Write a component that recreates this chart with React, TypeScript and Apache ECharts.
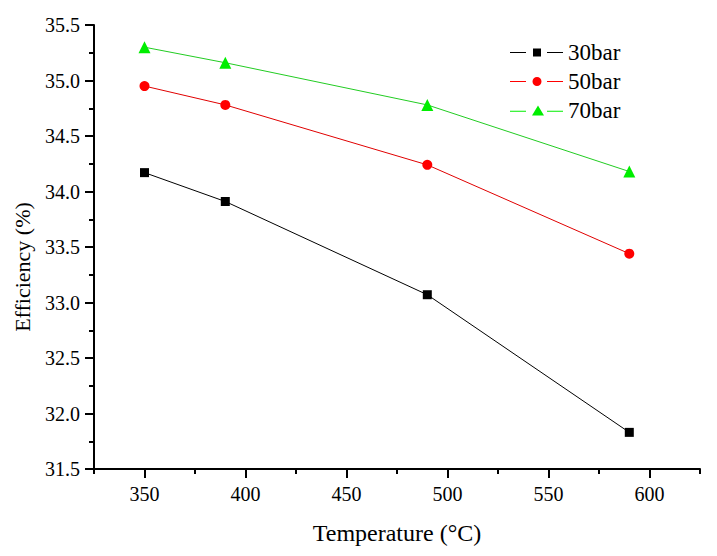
import React, { useEffect, useRef } from "react";
import * as echarts from "echarts";

const temperatures = [350, 390, 490, 590];
const bar30 = [34.17, 33.91, 33.07, 31.83];
const bar50 = [34.95, 34.78, 34.24, 33.44];
const bar70 = [35.3, 35.16, 34.78, 34.18];
const seriesNames = ["30bar", "50bar", "70bar"];
const xMajorTicks = [350, 400, 450, 500, 550, 600];
const xMinorTicks = [325, 375, 425, 475, 525, 575, 625];

const FONT = "Liberation Serif";

const legendIcons = [
  "path://M0 3.5H16V4.5H0Z M23 0H31V8H23Z M37 3.5H53V4.5H37Z",
  "path://M0 4H16V5H0Z M22.5 4.5A4.5 4.5 0 1 0 31.5 4.5A4.5 4.5 0 1 0 22.5 4.5Z M37 4H53V5H37Z",
  "path://M0 5.2H16V6.2H0Z M22 10L28 0L34 10Z M37 5.2H53V6.2H37Z",
];
const legendHeights = [8, 9, 10];
const legendTops = [41, 70, 99];

export default function App() {
  const ref = useRef<HTMLDivElement>(null);
  useEffect(() => {
    if (!ref.current) return;
    const chart = echarts.init(ref.current, null, { renderer: "svg" });
    const mk = (vals: number[]) => temperatures.map((t, i) => [t, vals[i]]);
    chart.setOption({
      animation: false,
      backgroundColor: "#ffffff",
      textStyle: { fontFamily: FONT },
      grid: { left: 94, right: 17, top: 25, bottom: 87 },
      legend: seriesNames.map((n, i) => ({
        left: 510,
        top: legendTops[i],
        padding: 0,
        itemWidth: 53,
        itemHeight: legendHeights[i],
        textStyle: { fontFamily: FONT, fontSize: 23, color: "#000" },
        data: [{ name: n, icon: legendIcons[i] }],
      })),
      xAxis: [
        {
          type: "value",
          min: 325,
          max: 625,
          name: "Temperature (°C)",
          nameLocation: "middle",
          nameGap: 52,
          nameTextStyle: { fontFamily: FONT, fontSize: 24, color: "#000" },
          axisLine: { show: true, onZero: false, lineStyle: { color: "#000", width: 2 } },
          axisTick: { show: true, customValues: xMajorTicks, length: 9, lineStyle: { color: "#000", width: 2 } },
          axisLabel: {
            customValues: xMajorTicks,
            margin: 15,
            fontFamily: FONT,
            fontSize: 20,
            color: "#000",
          },
          splitLine: { show: false },
        },
        {
          type: "value",
          min: 325,
          max: 625,
          position: "bottom",
          axisLine: { show: false },
          axisTick: { show: true, customValues: xMinorTicks, length: 5, lineStyle: { color: "#000", width: 2 } },
          axisLabel: { show: false },
          splitLine: { show: false },
        },
      ],
      yAxis: {
        type: "value",
        min: 31.5,
        max: 35.5,
        interval: 0.5,
        name: "Efficiency (%)",
        nameLocation: "middle",
        nameGap: 61,
        nameTextStyle: { fontFamily: FONT, fontSize: 22, color: "#000", padding: [0, 40, 0, 0] },
        axisLine: { show: true, onZero: false, lineStyle: { color: "#000", width: 2 } },
        axisTick: { show: true, length: 9, lineStyle: { color: "#000", width: 2 } },
        minorTick: { show: true, splitNumber: 2, length: 5, lineStyle: { color: "#000", width: 2 } },
        axisLabel: {
          margin: 14,
          fontFamily: FONT,
          fontSize: 20,
          color: "#000",
          formatter: (v: number) => v.toFixed(1),
        },
        splitLine: { show: false },
      },
      series: [
        {
          name: seriesNames[0],
          type: "line",
          data: mk(bar30),
          symbol: "rect",
          symbolSize: 9,
          itemStyle: { color: "#000000" },
          lineStyle: { color: "#000000", width: 1 },
        },
        {
          name: seriesNames[1],
          type: "line",
          data: mk(bar50),
          symbol: "circle",
          symbolSize: 10,
          itemStyle: { color: "#ff0000" },
          lineStyle: { color: "#e00000", width: 1 },
        },
        {
          name: seriesNames[2],
          type: "line",
          data: mk(bar70),
          symbol: "triangle",
          symbolSize: 12,
          itemStyle: { color: "#00ee00" },
          lineStyle: { color: "#22cc22", width: 1 },
        },
      ],
    });
    return () => chart.dispose();
  }, []);
  return <div ref={ref} style={{ width: 717, height: 556, position: "absolute", left: 0, top: 0 }} />;
}
